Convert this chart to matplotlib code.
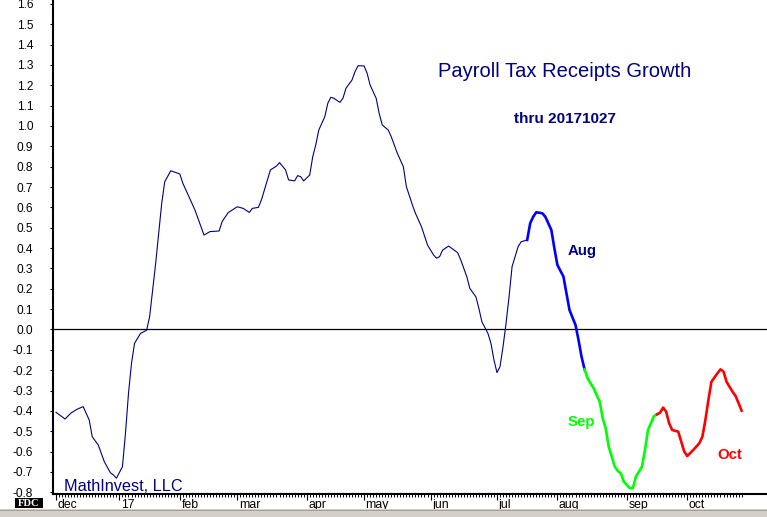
import matplotlib
matplotlib.use('Agg')
import matplotlib.pyplot as plt
import matplotlib.transforms as mtransforms
from matplotlib.patches import Rectangle
import numpy as np
import pandas as pd

plt.rcParams['font.family'] = ['Liberation Sans', 'DejaVu Sans']

# ---------------- data ----------------
holidays = ['2016-12-26', '2017-01-02', '2017-01-16', '2017-02-20',
            '2017-04-14', '2017-05-29', '2017-07-04', '2017-09-04']
month_labels = ['dec', '17', 'feb', 'mar', 'apr', 'may', 'jun', 'jul',
                'aug', 'sep', 'oct']

# trading-day number (0 = 2016-12-01)
day = [0, 3, 5, 7, 9, 11, 12, 14, 16, 18, 19, 20, 22, 23, 24, 25, 26, 28, 30,
       31, 32, 33, 34, 35, 36, 38, 41, 42, 44, 46, 48, 49, 51, 54, 55, 57, 60,
       62, 64, 65, 67, 68, 70, 71, 73, 74, 76, 77, 79, 80, 81, 82, 84, 85, 86,
       87, 89, 90, 91, 92, 94, 95, 96, 98, 99, 100, 102, 103, 104, 106, 107,
       108, 110, 111, 113, 115, 116, 118, 119, 121, 123, 125, 126, 127, 128,
       130, 131, 133, 134, 136, 137, 139, 140, 141, 143, 144, 145, 146, 147,
       148, 149, 150, 151, 153, 154, 156, 157, 158, 159, 161, 162, 164, 165,
       166, 168, 169, 170, 172, 173, 174, 175, 176, 178, 180, 181, 182, 183,
       185, 186, 187, 188, 190, 191, 192, 194, 195, 196, 198, 199, 200, 201,
       202, 203, 204, 206, 207, 208, 209, 211, 213, 214, 215, 216, 217, 219,
       220, 221, 222, 224, 225, 226, 227]
growth = [-0.407, -0.44, -0.41, -0.392, -0.379, -0.445, -0.527, -0.568, -0.65,
          -0.704, -0.715, -0.731, -0.674, -0.51, -0.314, -0.166, -0.068,
          -0.019, -0.004, 0.063, 0.194, 0.325, 0.473, 0.62, 0.726, 0.78,
          0.764, 0.718, 0.653, 0.587, 0.505, 0.464, 0.481, 0.484, 0.53, 0.574,
          0.603, 0.595, 0.575, 0.595, 0.6, 0.636, 0.735, 0.784, 0.803, 0.82,
          0.784, 0.735, 0.73, 0.756, 0.751, 0.73, 0.759, 0.849, 0.907, 0.98,
          1.046, 1.112, 1.141, 1.136, 1.116, 1.136, 1.185, 1.226, 1.267,
          1.296, 1.295, 1.259, 1.201, 1.136, 1.062, 1.005, 0.98, 0.947, 0.866,
          0.80, 0.702, 0.612, 0.571, 0.505, 0.415, 0.366, 0.35, 0.358, 0.39,
          0.41, 0.399, 0.377, 0.342, 0.26, 0.202, 0.161, 0.104, 0.038, -0.019,
          -0.068, -0.15, -0.212, -0.183, -0.085, 0.03, 0.161, 0.309, 0.407,
          0.431, 0.44, 0.522, 0.554, 0.576, 0.571, 0.554, 0.489, 0.399, 0.317,
          0.26, 0.178, 0.096, 0.022, -0.052, -0.134, -0.196, -0.24, -0.289,
          -0.355, -0.436, -0.486, -0.576, -0.674, -0.695, -0.707, -0.748,
          -0.78, -0.78, -0.723, -0.674, -0.592, -0.494, -0.425, -0.417,
          -0.409, -0.384, -0.404, -0.461, -0.494, -0.502, -0.551, -0.6,
          -0.622, -0.592, -0.559, -0.527, -0.445, -0.346, -0.257, -0.215,
          -0.196, -0.207, -0.257, -0.306, -0.327, -0.363, -0.399]

segment_bounds = [0, 156, 175, 199, 227]
segment_colors = ['#000080', '#0000ff', '#00ff00', '#ff0000']
segment_widths = [0.8, 1.9, 1.9, 1.9]

y_ticks = [k / 10 for k in range(-8, 17)]
y_tick_labels = ['%.1f' % (k / 10) if k != 0 else '0.0' for k in range(-8, 17)]

# ---------------- figure ----------------
W, H = 767, 517
fig = plt.figure(figsize=(W / 100, H / 100), dpi=100)
fig.patch.set_facecolor('white')

ax_left, ax_bottom = 52.5, 493.5
ax = fig.add_axes([ax_left / W, (H - ax_bottom) / H, 1 - ax_left / W, ax_bottom / H])

day_arr = np.array(day)
val_arr = np.array(growth)
for i, col in enumerate(segment_colors):
    lo, hi = segment_bounds[i], segment_bounds[i + 1]
    m = (day_arr >= lo) & (day_arr <= hi)
    ax.plot(day_arr[m], val_arr[m], color=col, lw=segment_widths[i],
            solid_joinstyle='round', zorder=3)

ax.axhline(0, color='black', lw=0.9, zorder=2)

# x axis: trading-day calendar
cal = pd.bdate_range('2016-12-01', '2017-10-31', freq='C', holidays=holidays)
pos = pd.Series(np.arange(len(cal)), index=cal)
firsts = pos.groupby(cal.to_period('M')).first().values[:len(month_labels)]

ax.set_xlim(-1.16, 235.4)
ax.set_ylim(-0.806, 1.619)

ax.set_xticks(firsts)
ax.set_xticklabels(month_labels)
ax.set_xticks(np.arange(0, 228), minor=True)
ax.set_yticks(y_ticks)
ax.set_yticklabels(y_tick_labels)

for s in ['top', 'right']:
    ax.spines[s].set_visible(False)
for s in ['left', 'bottom']:
    ax.spines[s].set_linewidth(1.5)
    ax.spines[s].set_color('black')

ax.tick_params(axis='x', which='major', direction='out', length=4.5, width=0.8,
               labelsize=8.8, pad=-0.6, colors='black')
ax.tick_params(axis='x', which='minor', direction='out', length=2.2, width=0.7)
ax.tick_params(axis='y', which='major', direction='out', length=2.2, width=0.8,
               labelsize=8.6, pad=11.6, colors='black')

offset = mtransforms.ScaledTranslation(1.5 / 100, 0, fig.dpi_scale_trans)
for lab in ax.get_xticklabels():
    lab.set_horizontalalignment('left')
    lab.set_transform(lab.get_transform() + offset)

navy = '#000080'


def ftext(x, y, s, **kw):
    fig.text(x / W, 1 - y / H, s, **kw)


ftext(564.5, 77.3, 'Payroll Tax Receipts Growth', ha='center', va='baseline',
      fontsize=14.5, color=navy)
ftext(564.5, 122.7, 'thru 20171027', ha='center', va='baseline',
      fontsize=11, color=navy, fontweight='bold')
ftext(64.3, 490.7, 'MathInvest, LLC', ha='left', va='baseline',
      fontsize=11.7, color=navy)
ftext(568, 255, 'Aug', ha='left', va='baseline', fontsize=10.8,
      color=navy, fontweight='bold')
ftext(567.7, 426, 'Sep', ha='left', va='baseline', fontsize=10.8,
      color='#00ff00', fontweight='bold')
ftext(717.7, 459, 'Oct', ha='left', va='baseline', fontsize=10.8,
      color='#ff0000', fontweight='bold')

# FDC box
fig.add_artist(Rectangle((15 / W, 1 - 507.5 / H), 27.5 / W, 9.5 / H,
                         transform=fig.transFigure, facecolor='black',
                         edgecolor='none'))
ftext(28.8, 503.2, 'FDC', ha='center', va='center', fontsize=7.6, color='white',
      fontweight='bold', family='Liberation Serif')

# bottom window band
fig.add_artist(Rectangle((0, 0), 1, 8.5 / H, transform=fig.transFigure,
                         facecolor='#d4d0c8', edgecolor='none'))
fig.add_artist(Rectangle((0, 6 / H), 1, 1 / H, transform=fig.transFigure,
                         facecolor='#a0a0a0', edgecolor='none'))

fig.savefig('out.png', dpi=100)
